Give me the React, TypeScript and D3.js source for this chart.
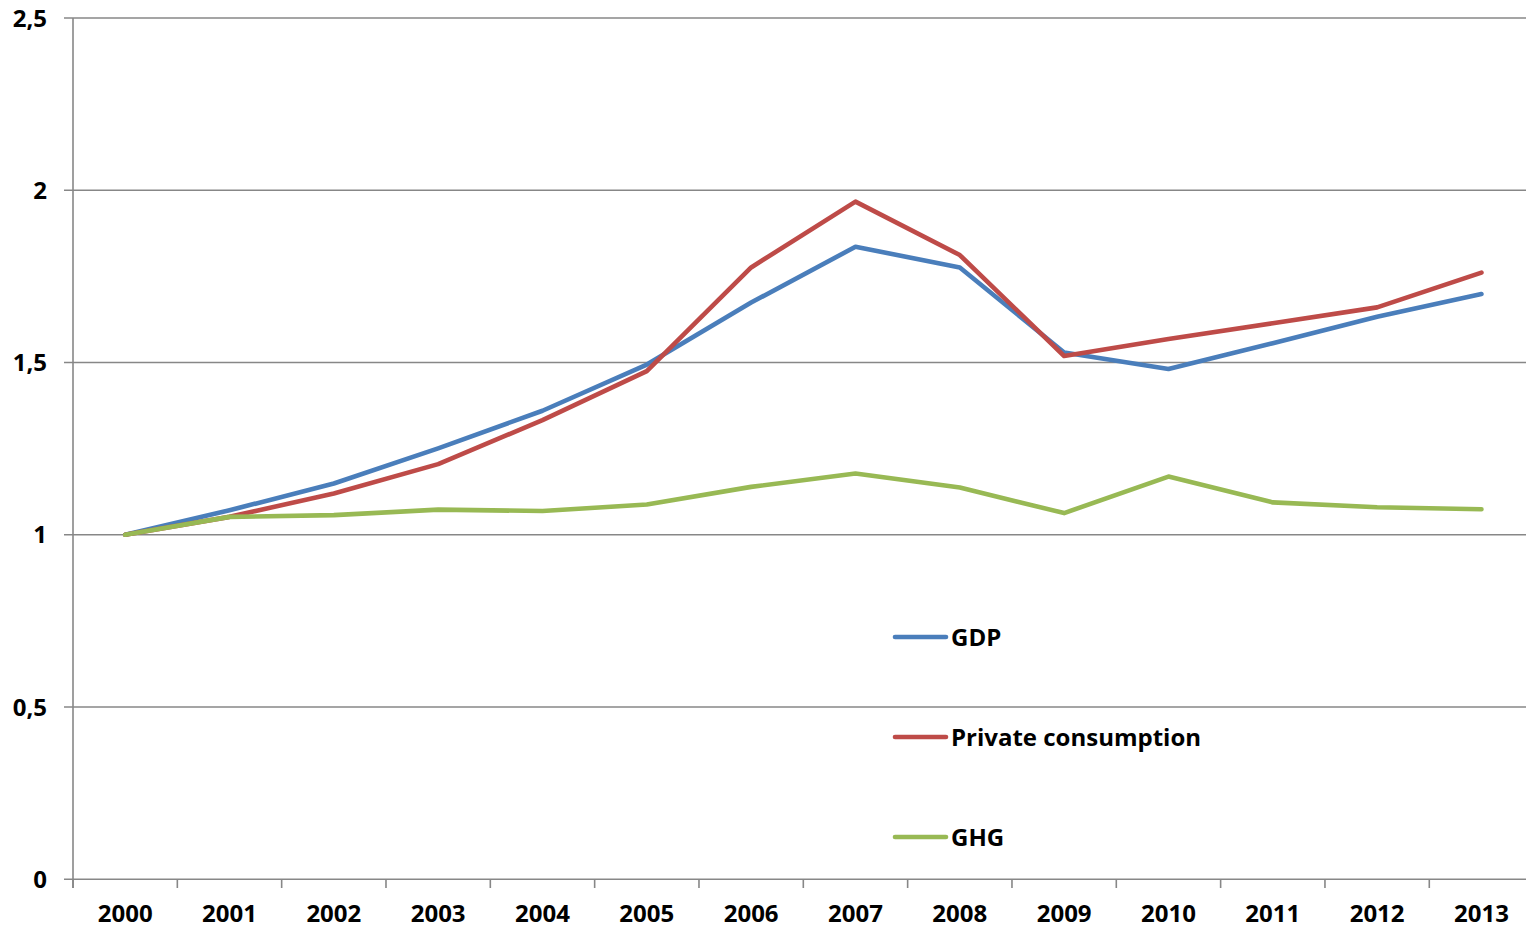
import React from "react";
import * as d3 from "d3";

const years = ["2000","2001","2002","2003","2004","2005","2006","2007","2008","2009","2010","2011","2012","2013"];
const gdp = [1.0, 1.071, 1.149, 1.251, 1.36, 1.494, 1.674, 1.836, 1.776, 1.529, 1.481, 1.556, 1.633, 1.699];
const privateConsumption = [1.0, 1.052, 1.12, 1.205, 1.333, 1.475, 1.776, 1.967, 1.812, 1.519, 1.568, 1.614, 1.66, 1.761];
const ghg = [1.0, 1.052, 1.057, 1.073, 1.069, 1.088, 1.139, 1.178, 1.137, 1.063, 1.169, 1.094, 1.08, 1.074];
const yTicks = [0, 0.5, 1, 1.5, 2, 2.5];
const yTickLabels = ["0", "0,5", "1", "1,5", "2", "2,5"];

const seriesList = [
  { name: "GDP", values: gdp, color: "#4A7EBB" },
  { name: "Private consumption", values: privateConsumption, color: "#BE4B48" },
  { name: "GHG", values: ghg, color: "#98B954" },
];

const W = 1526, H = 929;
const left = 73, bandW = 104.33;
const FONT = "'Open Sans', Lato, sans-serif";
const FS = 24;

export default function App() {
  const x = d3.scaleBand<string>().domain(years).range([left, left + bandW * years.length]).padding(0);
  const y = d3.scaleLinear().domain([0, 2.5]).range([879.3, 18]);
  const cx = (yr: string) => (x(yr) as number) + x.bandwidth() / 2;
  const line = d3.line<number>()
    .x((_, i) => cx(years[i]))
    .y((d) => y(d));
  const legendY = [637, 737, 837];
  const gridColor = "#878787";
  return (
    <svg width={W} height={H} style={{ position: "absolute", left: 0, top: 0, background: "#fff" }}>
      {yTicks.map((t, i) => (
        <g key={"g" + i}>
          <line x1={64} x2={W} y1={y(t)} y2={y(t)} stroke={gridColor} strokeWidth={1.6} />
          <text x={47} y={y(t)} dy="0.36em" textAnchor="end" fontFamily={FONT} fontWeight={700} fontSize={FS} fill="#000">
            {yTickLabels[i]}
          </text>
        </g>
      ))}
      <line x1={left} x2={left} y1={y(2.5)} y2={888} stroke={gridColor} strokeWidth={1.6} />
      {years.map((yr) => (
        <line key={"t" + yr} x1={x(yr) as number} x2={x(yr) as number} y1={y(0)} y2={888} stroke={gridColor} strokeWidth={1.6} />
      ))}
      {years.map((yr) => (
        <text key={"l" + yr} x={cx(yr)} y={922} textAnchor="middle" fontFamily={FONT} fontWeight={700} fontSize={FS} fill="#000">
          {yr}
        </text>
      ))}
      {seriesList.map((s) => (
        <path key={s.name} d={line(s.values) || ""} fill="none" stroke={s.color} strokeWidth={4.6} strokeLinejoin="round" strokeLinecap="round" />
      ))}
      {seriesList.map((s, i) => (
        <g key={"leg" + s.name}>
          <line x1={895} x2={946} y1={legendY[i]} y2={legendY[i]} stroke={s.color} strokeWidth={4.6} strokeLinecap="round" />
          <text x={951} y={legendY[i]} dy="0.36em" fontFamily={FONT} fontWeight={700} fontSize={FS} fill="#000">
            {s.name}
          </text>
        </g>
      ))}
    </svg>
  );
}
